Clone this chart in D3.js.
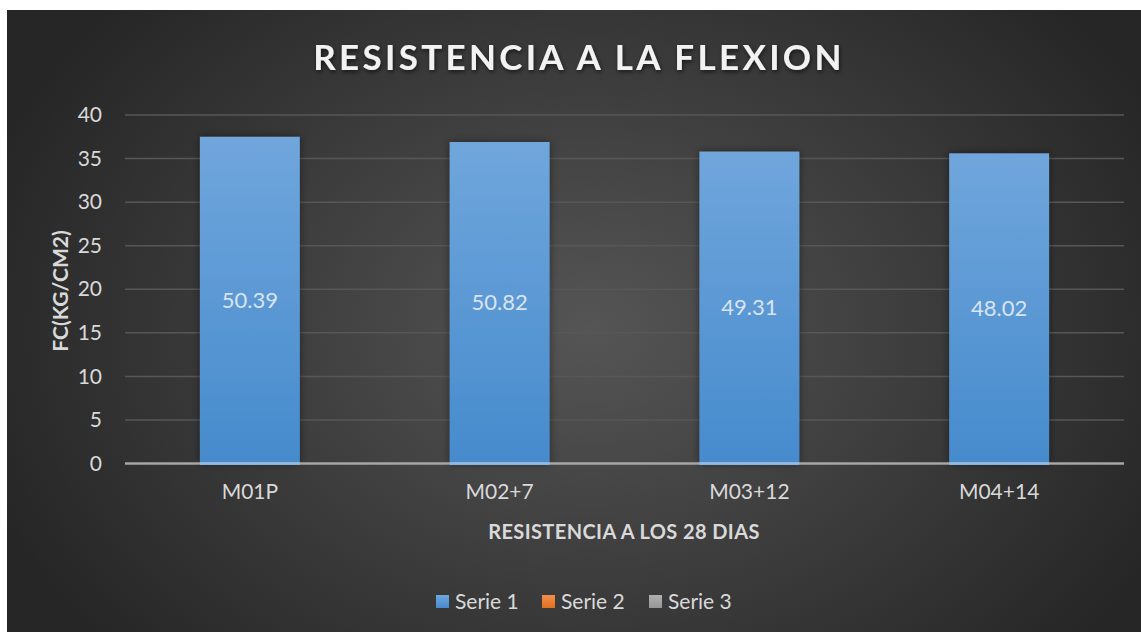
<!DOCTYPE html>
<html><head><meta charset="utf-8">
<script src="https://cdn.jsdelivr.net/npm/d3@7"></script>
<style>
html,body{margin:0;padding:0;background:#fff;}
svg{display:block;font-family:Lato,"Open Sans",sans-serif;}
</style></head>
<body>
<svg id="chart" width="1141" height="632"></svg>
<script>
const categories = ["M01P", "M02+7", "M03+12", "M04+14"];
const barValues = [37.5, 36.9, 35.8, 35.6];
const dataLabels = ["50.39", "50.82", "49.31", "48.02"];
const yTicks = [0, 5, 10, 15, 20, 25, 30, 35, 40];
const legendNames = ["Serie 1", "Serie 2", "Serie 3"];
const legendColors = ["#5b9bd5", "#ed7d31", "#a5a5a5"];
const titleText = "RESISTENCIA A LA FLEXION";
const xTitle = "RESISTENCIA A LOS 28 DIAS";
const yTitle = "FC(KG/CM2)";

(function(){
const svg = d3.select("#chart");
const defs = svg.append("defs");

const bg = defs.append("radialGradient").attr("id","bg")
  .attr("gradientUnits","userSpaceOnUse").attr("cx",590).attr("cy",330).attr("r",640)
  .attr("gradientTransform","translate(590,330) scale(1,0.75) translate(-590,-330)");
bg.append("stop").attr("offset","0%").attr("stop-color","#555555");
bg.append("stop").attr("offset","100%").attr("stop-color","#262626");

const barGrad = defs.append("linearGradient").attr("id","barG").attr("x1",0).attr("y1",0).attr("x2",0).attr("y2",1);
barGrad.append("stop").attr("offset","0%").attr("stop-color","#70a6dc");
barGrad.append("stop").attr("offset","100%").attr("stop-color","#468bcd");

const sh = defs.append("filter").attr("id","shadow").attr("x","-20%").attr("y","-20%").attr("width","140%").attr("height","140%");
sh.append("feDropShadow").attr("dx",0).attr("dy",0).attr("stdDeviation",4).attr("flood-color","#000").attr("flood-opacity",0.45);

const tsh = defs.append("filter").attr("id","tshadow").attr("x","-10%").attr("y","-30%").attr("width","120%").attr("height","160%");
tsh.append("feDropShadow").attr("dx",1).attr("dy",2).attr("stdDeviation",2).attr("flood-color","#000").attr("flood-opacity",0.6);

const swStops = [["#70a6dc","#468bcd"],["#f38e4a","#e0711f"],["#b0b0b0","#969696"]];
swStops.forEach((s,i) => {
  const g = defs.append("linearGradient").attr("id","sw"+i).attr("x1",0).attr("y1",0).attr("x2",0).attr("y2",1);
  g.append("stop").attr("offset","0%").attr("stop-color",s[0]);
  g.append("stop").attr("offset","100%").attr("stop-color",s[1]);
});

svg.append("rect").attr("x",7).attr("y",10).attr("width",1134).attr("height",622).attr("fill","url(#bg)");

const pLeft = 125, pRight = 1124, pTop = 115, pBottom = 463.5;
const x = d3.scaleBand().domain(categories).range([pLeft, pRight]).paddingInner(0.6).paddingOuter(0.3);
const y = d3.scaleLinear().domain([0, 40]).range([pBottom, pTop]);

svg.append("g").selectAll("line").data(yTicks.filter(d => d > 0)).join("line")
  .attr("x1", pLeft).attr("x2", pRight)
  .attr("y1", d => y(d)).attr("y2", d => y(d))
  .attr("stroke", "#575757").attr("stroke-width", 1.5);

svg.append("g").selectAll("rect").data(barValues).join("rect")
  .attr("x", (d,i) => x(categories[i]))
  .attr("y", d => y(d))
  .attr("width", x.bandwidth())
  .attr("height", d => y(0) - y(d))
  .attr("fill", "url(#barG)")
  .attr("filter", "url(#shadow)");

svg.append("line").attr("x1", pLeft).attr("x2", pRight).attr("y1", y(0)).attr("y2", y(0))
  .attr("stroke", "#a6a6a6").attr("stroke-width", 2.5);
svg.append("g").selectAll("rect").data(barValues).join("rect")
  .attr("x", (d,i) => x(categories[i])).attr("width", x.bandwidth())
  .attr("y", y(0)-1.2).attr("height", 2.5).attr("fill", "#8fbce8");

const yAxis = d3.axisLeft(y).tickValues(yTicks).tickSize(0).tickPadding(23);
const yg = svg.append("g").attr("transform", `translate(${pLeft},0)`).call(yAxis);
yg.select(".domain").remove();
yg.selectAll("text").attr("fill", "#d9d9d9").attr("font-size", 21).attr("font-family","Lato,sans-serif");

const xAxis = d3.axisBottom(x).tickSize(0).tickPadding(21);
const xg = svg.append("g").attr("transform", `translate(0,${pBottom})`).call(xAxis);
xg.select(".domain").remove();
xg.selectAll("text").attr("fill", "#d9d9d9").attr("font-size", 21).attr("font-family","Lato,sans-serif");

svg.append("g").selectAll("text").data(barValues).join("text")
  .attr("x", (d,i) => x(categories[i]) + x.bandwidth()/2)
  .attr("y", d => (y(d) + y(0))/2)
  .attr("dy", "0.35em")
  .attr("text-anchor", "middle")
  .attr("fill", "#d8e4f0").attr("font-size", 22)
  .text((d,i) => dataLabels[i]);

svg.append("text").attr("x", 579).attr("y", 70).attr("text-anchor","middle")
  .attr("fill","#f2f2f2").attr("font-size",35).attr("font-weight",700)
  .attr("letter-spacing", 3.3).attr("filter","url(#tshadow)")
  .text(titleText);

svg.append("text").attr("x", 624).attr("y", 539).attr("text-anchor","middle")
  .attr("fill","#d9d9d9").attr("font-size",20).attr("font-weight",700)
  .attr("letter-spacing", 0.4)
  .text(xTitle);
svg.append("text").attr("transform","translate(68,291) rotate(-90)").attr("text-anchor","middle")
  .attr("fill","#d9d9d9").attr("font-size",21).attr("font-weight",700)
  .text(yTitle);

const legX = [436, 542, 649];
const lg = svg.append("g").selectAll("g").data(legendNames).join("g")
  .attr("transform", (d,i) => `translate(${legX[i]},595)`);
lg.append("rect").attr("width",13).attr("height",13).attr("fill",(d,i)=>`url(#sw${i})`);
lg.append("text").attr("x",19).attr("y",7).attr("dy","0.35em")
  .attr("fill","#d9d9d9").attr("font-size",21).text(d => d);
})();
</script>
</body></html>
